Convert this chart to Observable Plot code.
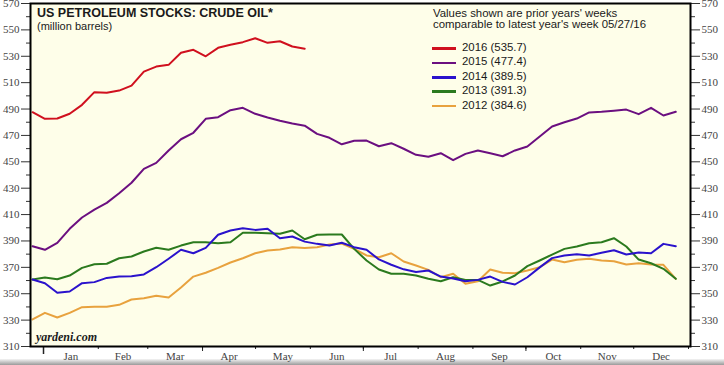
<!DOCTYPE html>
<html><head><meta charset="utf-8">
<script src="https://cdn.jsdelivr.net/npm/d3@7"></script>
<script src="https://cdn.jsdelivr.net/npm/@observablehq/plot@0.6"></script>
<style>
body{margin:0;background:#fff;}
#wrap{position:relative;width:724px;height:365px;overflow:hidden;background:#fff;}
#wrap svg{position:absolute;left:0;top:0;}
.t{position:absolute;font-family:"Liberation Sans",Arial,sans-serif;color:#1a1a1a;white-space:nowrap;line-height:1;}
.leg{position:absolute;left:432px;width:24px;height:2.5px;}
#shadow{position:absolute;left:0;top:359px;width:724px;height:6px;background:linear-gradient(#f4f4f4,#9a9a9a);}
</style></head><body><div id="wrap"><div id="shadow"></div></div>
<script>
// ---- data (million barrels, weekly) ----
const years = ["2016", "2015", "2014", "2013", "2012"];
const colors = ["#d0101e", "#6b0f80", "#2a12cc", "#2b7a1e", "#e8a23e"];
const latest = ["535.7", "477.4", "389.5", "391.3", "384.6"];
const months = ["Jan","Feb","Mar","Apr","May","Jun","Jul","Aug","Sep","Oct","Nov","Dec"];
const monthStarts = [0,31,59,90,120,151,181,212,243,273,304,334,365];
const quarterStarts = [90,181,273];
const yMajor = [310,330,350,370,390,410,430,450,470,490,510,530,550,570];
const yMinor = [320,340,360,380,400,420,440,460,480,500,520,540,560];
const firstWeekDay = -6.2; // day of year of first weekly observation
const v2016 = [487.6,482.6,482.8,486.4,493.2,502.8,502.3,504.0,507.8,518.4,522.2,523.5,532.6,534.9,530.0,536.4,538.7,540.7,543.7,540.2,541.4,537.4,535.7];
const v2015 = [386.0,383.3,388.6,399.2,407.8,413.8,418.9,426.2,434.1,444.7,
  449.2,458.6,467.1,472.0,482.6,483.8,489.1,490.9,486.4,483.6,
  481.1,479.0,477.4,471.2,468.2,463.3,465.9,466.1,461.8,464.1,
  459.9,455.3,453.8,456.5,451.2,456.0,458.6,456.5,454.2,458.6,
  461.6,469.2,476.8,480.0,482.8,487.4,487.9,488.7,489.6,486.1,
  490.9,485.1,487.9];
const v2014 = [360.8,358.0,350.7,351.7,358.0,358.8,362.0,363.0,363.3,364.6,
  370.1,376.5,383.3,380.7,384.8,394.7,397.9,399.7,398.4,399.2,
  392.1,393.4,389.5,387.8,386.5,388.6,385.3,383.3,376.0,372.0,
  368.5,366.5,367.6,363.0,361.5,359.5,360.5,363.0,359.0,357.0,
  362.5,370.0,377.0,379.0,380.0,379.0,381.0,383.0,379.7,381.3,
  380.7,387.8,386.0];
const v2013 = [360.8,362.3,361.0,363.8,369.6,372.4,372.7,376.9,378.2,382.0,
  384.8,383.3,386.5,389.0,389.0,388.3,389.0,396.2,396.2,395.9,
  395.4,397.9,391.3,394.7,394.9,394.9,384.0,375.2,368.4,365.1,
  365.1,363.8,361.3,359.5,362.5,360.5,360.5,356.2,359.3,363.8,
  370.9,375.2,379.7,384.0,385.8,388.3,389.0,392.1,385.8,375.9,
  373.1,368.9,361.3];
const v2012 = [330.5,335.5,332.0,335.5,339.8,340.1,340.1,341.6,345.6,346.6,
  348.4,347.1,354.7,363.0,365.9,369.6,373.7,376.9,380.7,382.8,
  383.5,385.3,384.6,385.3,387.3,388.1,384.0,379.0,377.7,380.7,
  374.4,371.4,368.1,362.5,365.1,357.5,359.5,368.4,365.9,365.6,
  367.6,370.1,375.9,373.9,375.7,376.5,375.2,374.6,372.2,373.1,
  372.2,371.9,361.3];

const series = {"2016": v2016, "2015": v2015, "2014": v2014, "2013": v2013, "2012": v2012};
const drawOrder = ["2012", "2013", "2014", "2015", "2016"];
const rows = [];
for (const yr of drawOrder) series[yr].forEach((v, i) => rows.push({year: yr, day: firstWeekDay + 7 * i, value: v}));
const monthLabels = months.map((m, i) => ({m, mid: (monthStarts[i] + monthStarts[i + 1]) / 2}));

const tickStyle = {fontFamily: "Liberation Serif, Times New Roman, serif", fontSize: 11};
const plot = Plot.plot({
  width: 724, height: 365,
  marginLeft: 30, marginRight: 34, marginTop: 3, marginBottom: 19,
  style: {background: "transparent", fontFamily: "Liberation Serif, serif", fontSize: "11px", overflow: "visible"},
  x: {domain: [-7.36, 366.13], axis: null},
  y: {domain: [310, 570], axis: null},
  color: {domain: years, range: colors},
  marks: [
    Plot.frame({fill: "#fefee9"}),
    Plot.line(rows, {x: "day", y: "value", z: "year", stroke: "year", strokeWidth: 2, curve: "linear"}),
    Plot.axisY(yMajor, {anchor: "left", label: null, tickSize: 9, tickPadding: 2, stroke: "#333", fill: "#444", ...tickStyle, tickFormat: d => d}),
    Plot.axisY(yMinor, {anchor: "left", label: null, tickSize: 4, stroke: "#333", tickFormat: () => ""}),
    Plot.axisY(yMajor, {anchor: "right", label: null, tickSize: 9, tickPadding: 2, stroke: "#333", fill: "#444", ...tickStyle, tickFormat: d => d}),
    Plot.axisY(yMinor, {anchor: "right", label: null, tickSize: 4, stroke: "#333", tickFormat: () => ""}),
    Plot.axisX(monthStarts, {anchor: "bottom", label: null, tickSize: 3, stroke: "#222", tickFormat: () => ""}),
    Plot.axisX(quarterStarts, {anchor: "bottom", label: null, tickSize: 5, stroke: "#222", tickFormat: () => ""}),
    Plot.axisX([0], {anchor: "bottom", label: null, tickSize: 8, stroke: "#222", strokeWidth: 1.5, tickFormat: () => ""}),
    Plot.text(monthLabels, {x: "mid", y: () => 310, dy: 10, text: "m", fill: "#444", ...tickStyle}),
    Plot.frame({stroke: "#000", strokeWidth: 2})
  ]
});
const wrap = document.getElementById("wrap");
wrap.appendChild(plot);

function addText(txt, left, top, size, extra) {
  const d = document.createElement("div");
  d.className = "t";
  d.textContent = txt;
  d.style.left = left + "px";
  d.style.top = top + "px";
  d.style.fontSize = size + "px";
  if (extra) Object.assign(d.style, extra);
  wrap.appendChild(d);
}
addText("US PETROLEUM STOCKS: CRUDE OIL*", 37, 7, 12.5, {fontWeight: "bold"});
addText("(million barrels)", 37, 21, 11);
addText("Values shown are prior years' weeks", 433, 8, 11.4);
addText("comparable to latest year's week 05/27/16", 433, 19, 11.4);
const legendY = [48.3, 62.8, 77.2, 91.6, 106];
years.forEach((yr, i) => {
  const sw = document.createElement("div");
  sw.className = "leg";
  sw.style.top = (legendY[i] - 1.2) + "px";
  sw.style.background = colors[i];
  wrap.appendChild(sw);
  addText(yr + " (" + latest[i] + ")", 462, legendY[i] - 6.5, 11.4);
});
addText("yardeni.com", 36, 331, 12, {fontFamily: "Liberation Serif, Times New Roman, serif", fontStyle: "italic", fontWeight: "bold"});
</script>
</body></html>
